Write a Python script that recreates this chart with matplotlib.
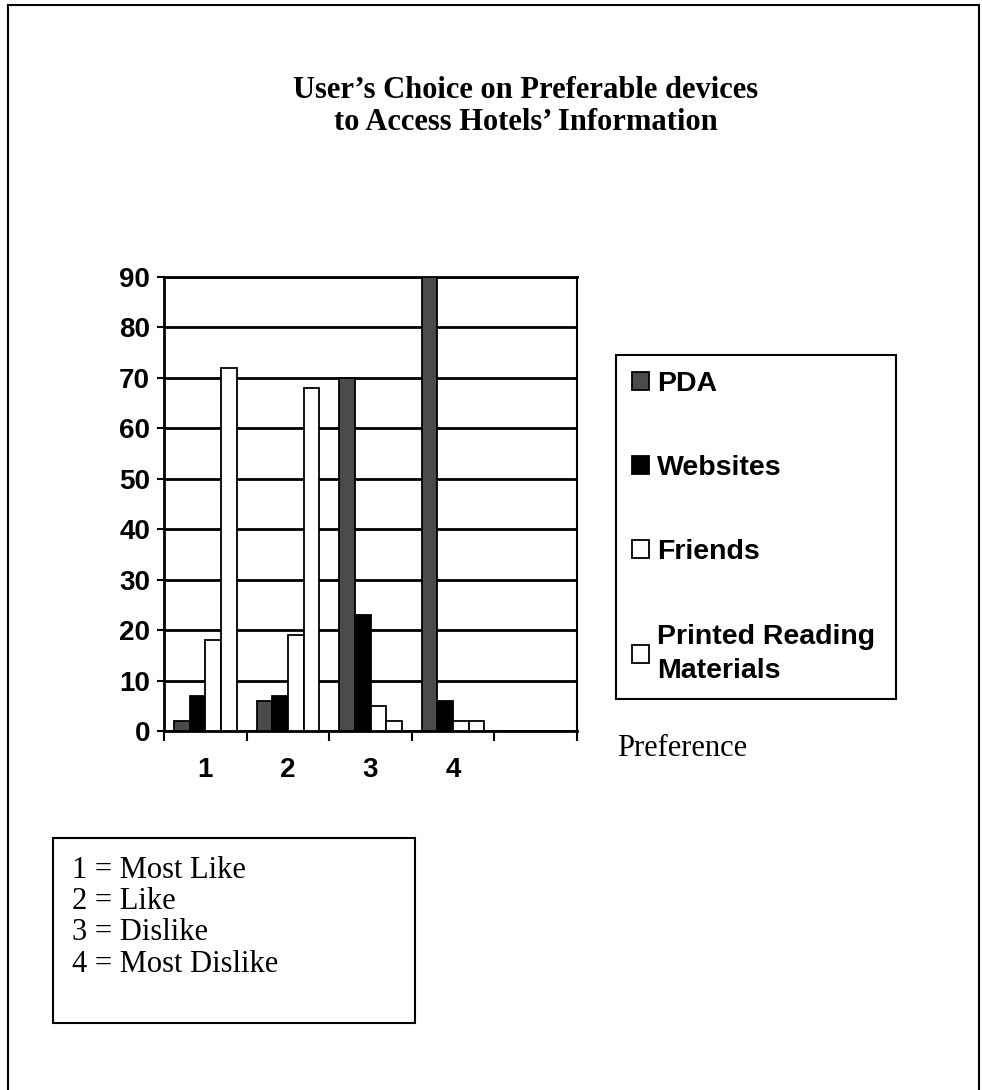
import matplotlib.pyplot as plt
import matplotlib.patches as mpatches
from matplotlib.lines import Line2D
import numpy as np

# data
categories = ['1', '2', '3', '4', '']
pda = [2, 6, 70, 90, 0]
websites = [7, 7, 23, 6, 0]
friends = [18, 19, 5, 2, 0]
printed = [72, 68, 2, 2, 0]
series_names = ['PDA', 'Websites', 'Friends', 'Printed Reading\nMaterials']
key_lines = ['1 = Most Like', '2 = Like', '3 = Dislike', '4 = Most Dislike']

W, H = 982, 1090
serif = 'Liberation Serif'
sans = 'Liberation Sans'

fig = plt.figure(figsize=(W / 100, H / 100), dpi=100)
ax = fig.add_axes([164 / W, 1 - 731 / H, 413 / W, 454 / H])

x = np.arange(len(categories))
w = 0.19
colors = ['#4a4a4a', 'black', 'white', 'white']
for i, (vals, fc, name) in enumerate(zip([pda, websites, friends, printed], colors, series_names)):
    ax.bar(x + (i - 1.5) * w, vals, w, color=fc, edgecolor='black',
           linewidth=1.3, label=name, zorder=3)

ax.set_xlim(-0.5, 4.5)
ax.set_ylim(0, 90)
ax.set_yticks(range(0, 91, 10))
ax.set_xticks(np.arange(-0.5, 5, 1))
ax.set_xticklabels([])
ax.set_xticks(x, minor=True)
ax.set_xticklabels(categories, minor=True, fontfamily=sans, fontweight='bold', fontsize=20)
ax.tick_params(axis='x', which='major', length=7, width=1.5, direction='out')
ax.tick_params(axis='x', which='minor', length=0, pad=19)
ax.tick_params(axis='y', length=5, width=1.5, pad=5)
for lab in ax.get_yticklabels():
    lab.set_fontfamily(sans)
    lab.set_fontweight('bold')
    lab.set_fontsize(20)

ax.yaxis.grid(True, color='black', linewidth=2)
ax.set_axisbelow(True)
for s in ['left', 'bottom', 'top']:
    ax.spines[s].set_linewidth(2)
ax.spines['right'].set_linewidth(1.5)

handles, labels = ax.get_legend_handles_labels()
leg = fig.legend(handles, labels, loc='upper left',
                 bbox_to_anchor=(616 / W, 1 - 697 / H, 280 / W, 342 / H), mode='expand',
                 prop={'family': sans, 'weight': 'bold', 'size': 20.5},
                 labelspacing=2.05, handlelength=0.6, handleheight=0.6, handletextpad=0.3,
                 borderpad=0.55, borderaxespad=0, fancybox=False, edgecolor='black',
                 framealpha=1)
leg.get_frame().set_linewidth(1.5)
for t in leg.get_texts():
    t.set_linespacing(1.4)

# title and axis caption
fig.text(526 / W, 1 - 91 / H, "User\u2019s Choice on Preferable devices",
         ha='center', va='center', fontsize=22, fontweight='bold', fontfamily=serif)
fig.text(526 / W, 1 - 123 / H, "to Access Hotels\u2019 Information",
         ha='center', va='center', fontsize=22, fontweight='bold', fontfamily=serif)
fig.text(617 / W, 1 - 749 / H, 'Preference', va='center', fontsize=22, fontfamily=serif)

# key box below the chart
fig.add_artist(mpatches.Rectangle((53 / W, 1 - 1023 / H), 362 / W, 185 / H, fill=False,
                                  edgecolor='black', linewidth=1.5, transform=fig.transFigure))
for k, line in enumerate(key_lines):
    fig.text(72 / W, 1 - (870 + 31.5 * k) / H, line, va='center', fontsize=22, fontfamily=serif)

# page border
fig.add_artist(Line2D([8 / W, 8 / W], [0, 1 - 5 / H], color='black', lw=1.5))
fig.add_artist(Line2D([8 / W, 979 / W], [1 - 5 / H, 1 - 5 / H], color='black', lw=1.5))
fig.add_artist(Line2D([979 / W, 979 / W], [0, 1 - 5 / H], color='black', lw=1.5))

fig.savefig('out.png', dpi=100)
